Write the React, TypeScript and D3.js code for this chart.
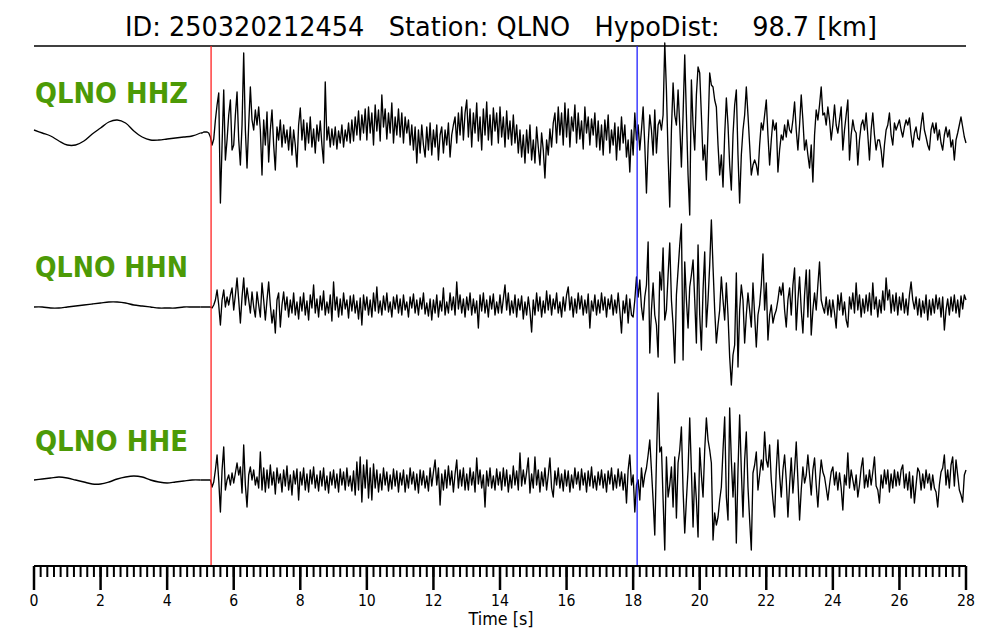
import React from "react";
import * as d3 from "d3";

const TITLE = "ID: 250320212454   Station: QLNO   HypoDist:    98.7 [km]";
const CHANNELS = ["QLNO HHZ", "QLNO HHN", "QLNO HHE"];
const P_PICK = 5.32;
const S_PICK = 18.12;
const T_MAX = 28;
const PRE_STEP = 0.25;
const POST_START = 5.0;
const POST_STEP = 0.05;
const MAJOR_TICKS = d3.range(0, 29, 2);
const MINOR_TICKS = d3.range(0, 141).map((i) => i * 0.2);

// amplitudes (normalised, ~ -100..100), pre-event part every 0.25 s from t = 0
const hhzPre = [5, 2, -1, -6, -10, -10, -6, 1, 7, 13, 15, 12, 4, -2, -5, -5, -4, -3, -2, -1];
const hhnPre = [-2, -2, -3, -3, -2, -1, 0, 1, 2, 3, 3, 2, 0, -1, -2, -3, -3, -3, -2, -2];
const hhePre = [0, 1, 2, 3, 2, 0, -2, -4, -4, -2, 1, 3, 4, 3, 0, -2, -3, -2, -1, 0];

// from t = 5.0 s every 0.05 s
const hhzPost = [
  2, 2, 3, 3, 3, 2, -2, -10, -4, 15, 30, 42, -68, -10, 45, -25, -5, 20, 35, -15,
  -10, 20, 43, -5, -30, 10, 82, 5, -33, 10, 48, 15, 5, 25, 10, 28, 5, -40, 15, -10,
  23, -27, 5, 25, -10, -35, 8, -5, 15, -12, 10, -8, 5, -15, 8, -20, 5, -10, -32, 10,
  27, -5, 15, -15, 12, -8, 18, -12, 6, -18, 10, -6, 14, -10, -28, 53, -5, 8, -12, 6,
  -10, 8, -14, 4, -8, 10, -12, 5, -6, 12, -8, 15, -6, 18, 0, 24, -5, 20, 2, 26,
  -5, 28, 2, 22, -10, 30, 4, 25, -6, 40, 8, 26, -4, 22, 2, 32, -8, 18, 0, 26,
  -2, 22, -8, 18, 2, 15, -10, 10, -15, 8, -28, 5, -18, 10, -10, -22, 8, -15, 12, -20,
  5, -12, 10, -25, 0, 8, -18, 5, -10, 12, -22, 0, 10, 18, -8, 22, 0, 28, -5, 22,
  35, -2, 26, -12, 22, 2, 32, -6, 18, -15, 26, 0, 33, -5, 20, -10, 27, 4, 22, -8,
  28, -2, 18, -12, 24, -4, 14, -10, 20, -8, 10, -18, 5, -22, 0, -28, 5, -18, 10, -25,
  -5, -28, 8, -12, -30, 2, -15, -43, -5, -20, 6, -12, 12, 22, -8, 28, 0, 22, -10, 32,
  -2, 26, -12, 18, 4, 30, -8, 22, -4, 14, -14, 28, 2, 18, -10, 16, 0, 22, -12, 14,
  -15, 10, -20, 15, -5, 20, -18, 5, -10, 12, -25, 8, -15, 18, -8, 10, -22, -5, -37, 5,
  -20, 22, -5, 10, -15, 5, 28, -10, -58, -10, 20, 5, -20, 25, -18, 10, 15, 5, 20, 92,
  45, -20, -72, 5, 52, 20, 10, 45, 10, -32, 20, 80, 20, -40, -80, 55, 10, -15, 40, 68,
  62, 20, -25, -10, -45, 5, 62, 50, 48, 35, 28, -10, -40, -20, -52, 0, 37, 10, -30, -55,
  0, 30, 45, -20, -68, -20, 5, 20, 48, 20, -10, -40, -30, -25, -30, -40, -10, 12, 5, 20,
  35, 0, -30, -5, 15, 5, 12, -37, -15, 0, -5, 10, -2, 15, 5, 2, 15, 33, 5, -15,
  10, 40, 15, -15, -5, -20, -33, -10, -47, 0, 25, 15, 30, 48, 20, 22, 10, 28, 15, -5,
  10, 30, 10, 2, 15, 28, -15, 5, 20, 35, -25, 0, 15, 5, 2, -30, -5, 10, 15, 5,
  22, 0, -25, 5, 22, 0, -15, -5, -5, -15, -32, -10, 5, 10, 22, 0, -10, 12, 5, 10,
  15, 5, -2, 8, 15, 10, 17, 0, -12, 2, 8, -3, -5, 10, 22, 5, -2, -10, -15, 5,
  12, 2, 12, -5, 5, -8, -15, 0, 8, -2, 5, -12, -5, -25, -5, 2, 10, 18, 8, -2,
  -8,
];

const hhnPost = [
  -2, -2, -2, -2, -2, -2, -2, -3, 0, 5, 15, 0, -20, 5, 15, -2, 8, 0, 10, 17,
  -5, 10, 27, 5, -18, 8, 27, 0, 17, 5, -8, 13, -2, -12, 13, 0, -12, 22, 5, -15,
  5, 23, 0, -18, -5, -28, 5, 12, -22, 0, 13, -5, 8, -12, 5, -8, 12, -10, 3, -14,
  8, -6, 12, -10, 4, -15, 10, -3, 20, -8, 6, -12, 9, -5, 14, -10, 3, -8, 10, -16,
  23, -5, 8, -12, 6, -10, 12, -4, 5, -13, 9, -6, 10, -8, 4, -14, 7, -20, 10, -5,
  8, -10, 5, -12, 12, -6, 18, -8, 4, -10, 9, -5, 12, -7, 3, -12, 8, -4, 10, -8,
  6, -10, 10, -5, 3, -12, 8, -3, 11, -8, 5, -10, 7, -4, 12, -9, 2, -11, 6, -15,
  5, -8, 10, -12, 4, -6, 17, -10, 3, -8, 12, -5, 8, -10, 23, -4, 10, -8, 6, -12,
  8, -5, 12, -10, 6, -8, 4, -23, 10, -6, 12, -8, 5, -12, 9, -4, 11, -10, 3, -8,
  10, -8, 6, 20, -5, 12, -10, 4, -8, 10, -12, 6, -5, 9, -14, 3, -10, 8, -6, -27,
  5, -10, 12, -6, 8, -12, 4, -8, 14, -5, 10, -10, 6, -4, 12, -8, 3, -12, 8, -6,
  10, 18, -5, 8, -12, 6, -8, 12, -4, 9, -10, 5, -8, 11, -23, 4, -6, 10, -10, 5,
  -8, 12, -5, 8, -12, 6, -4, 10, -10, 5, -8, 12, -6, -28, 4, -8, 10, -18, 6, -10,
  -12, 5, 28, 8, 25, -2, -15, 8, 20, 63, -48, -5, 22, -10, -20, -52, 33, 15, 57, -15,
  -5, 30, 62, 5, -20, -58, 10, 35, 60, 81, -55, 43, 5, -23, 18, 30, 45, 5, -38, 60,
  -10, -45, 15, 53, -22, 5, 40, 85, 38, -5, -38, -20, -5, 28, 5, -15, 22, -10, -52, -80,
  -50, -40, 32, -62, -5, 20, 5, -38, -10, 12, -5, -22, 22, -10, -42, -10, 0, 20, 51, -5,
  22, -35, -10, 0, -18, -10, -5, 5, 18, 10, 22, -5, -22, 5, 17, -10, 20, 37, -25, 5,
  28, -5, -28, 10, 35, -12, 35, -30, -5, 12, -5, 20, 43, 5, -2, -8, 8, -10, 5, -12,
  5, -8, -23, 10, -5, 12, -10, 3, -15, -22, 8, -4, 12, -8, 22, -5, 10, -12, 6, -8,
  10, -6, 12, -10, 22, -4, 8, -12, 5, -8, 14, -5, 27, 5, 15, -8, 10, -6, 12, -10,
  8, -5, 12, -8, 6, -10, 10, 23, 5, -4, 8, -10, 6, -12, 4, -8, 10, -15, 5, -10,
  6, -8, 10, -4, 7, -12, 8, -25, -5, 6, -10, 8, -6, 10, -8, 5, -12, 9, -4, 10,
  5,
];

const hhePost = [
  0, 0, 0, 0, 0, 0, 0, -7, -2, 10, 25, 0, -32, 10, 33, -10, 0, 5, -5, 7,
  -3, 7, 17, 5, 13, -13, 35, -5, -27, 5, 13, 0, 10, -5, 3, -8, 28, -10, 12, -12,
  10, -8, 15, -5, 8, -14, 12, -3, 6, -12, 10, -6, 14, -10, 5, -15, 9, -4, 11, -20,
  8, -5, 12, -10, 6, -12, 10, -4, 13, -8, 5, -11, 9, -6, 12, -10, 4, -13, 8, -5,
  10, -8, 6, -12, 11, -5, 8, -10, 12, -6, 4, -11, 9, -15, 18, -10, 23, -22, 15, -8,
  20, -18, 12, -20, 16, -8, 10, -12, 6, -10, 12, -5, 8, -11, 5, -9, 11, -6, 9, -12,
  7, -5, 10, -12, 5, -8, 12, -4, 8, -10, 6, -13, 10, -5, 9, -8, 4, -11, 12, -6,
  8, 20, -5, 12, -25, 6, -10, 10, -8, 14, -5, 9, -12, 6, 20, -8, 10, -6, 12, -10,
  6, -10, 12, -5, 8, -12, 22, -4, 10, -8, 5, -27, 9, -6, 12, -8, 4, -10, 11, -5,
  8, -10, 12, -6, 10, -12, 5, -8, 14, -5, 9, -10, 27, -6, 10, -4, 8, 22, -13, 6,
  -8, 23, -5, 10, -12, 8, -6, 12, -10, 5, 22, -8, -17, 9, -5, 12, -8, 6, -11, 10,
  -6, 9, -12, 5, -8, 12, -4, 8, -10, 11, -5, 7, -12, 9, -6, 13, -8, 4, -10, 8,
  -5, 10, -8, 6, -12, 9, -4, 12, -10, 5, -8, 11, -6, 8, -10, 6, -23, 10, 25, -5,
  5, -32, -5, 0, -20, 12, -7, 5, 12, 25, 40, 10, -20, -55, 20, 87, 28, 33, -20, -70,
  23, -17, -5, 13, -27, 23, -38, 17, 30, 53, -10, -53, -20, 10, 62, 10, -47, 7, -20, -57,
  32, 5, -17, 30, 62, 40, 30, 17, -60, -33, -45, -37, -20, -7, 30, 63, -17, -40, 72, 20,
  -17, 17, -63, 10, 65, 10, -37, 20, 48, -7, -40, -70, 7, 15, 28, -10, 5, 20, 10, 48,
  20, 13, 35, 0, -20, -37, 10, 40, 5, -17, 10, 25, 0, -37, -5, 22, -13, 10, 38, 0,
  -40, -10, 13, -3, 5, 25, 5, -15, 10, 22, -5, -27, 0, 20, 8, 3, -8, -20, -5, 8,
  13, -5, 8, -10, 7, -8, -30, 5, -5, 27, -8, 10, 0, -10, 5, -17, -5, 12, 22, -8,
  5, -7, 10, -5, 8, 23, -6, -10, -23, 5, -8, 10, -4, 10, -12, 6, -8, 10, -6, 8,
  -5, 10, 15, -8, 6, -10, 8, -18, 4, -23, -5, 12, 8, -10, 6, -8, 10, -3, 6, -10,
  5, -8, -12, -27, -5, 8, 12, 25, -5, 10, -8, 15, 23, -6, 20, 5, -10, -15, -22, 5,
  10,
];

const TRACES = [
  { name: CHANNELS[0], pre: hhzPre, post: hhzPost },
  { name: CHANNELS[1], pre: hhnPre, post: hhnPost },
  { name: CHANNELS[2], pre: hhePre, post: hhePost },
];

const W = 1000;
const H = 640;
const LEFT = 34;
const RIGHT = 966;
const TOP = 46;
const AXIS_Y = 566;
const CENTERS = [135, 305, 480];
const LABEL_Y = [103, 277, 451];
const GREEN = "#4c9a06";

export default function App() {
  const x = d3.scaleLinear().domain([0, T_MAX]).range([LEFT, RIGHT]);

  const traces = TRACES.map((tr, k) => {
    const y = d3.scaleLinear().domain([-100, 100]).range([CENTERS[k] + 100, CENTERS[k] - 100]);
    const prePts: [number, number][] = tr.pre.map((v, i) => [i * PRE_STEP, v]);
    const postPts: [number, number][] = tr.post.map((v, i) => [POST_START + i * POST_STEP, v]);
    const smooth = d3
      .line<[number, number]>()
      .x((d) => x(d[0]))
      .y((d) => y(d[1]))
      .curve(d3.curveCatmullRom);
    const sharp = d3
      .line<[number, number]>()
      .x((d) => x(d[0]))
      .y((d) => y(d[1]));
    return {
      name: tr.name,
      preD: smooth([...prePts, postPts[0]]) || "",
      postD: sharp(postPts) || "",
    };
  });

  return (
    <svg
      width={W}
      height={H}
      viewBox={`0 0 ${W} ${H}`}
      style={{ position: "absolute", left: 0, top: 0, background: "#fff" }}
    >
      <rect x={0} y={0} width={W} height={H} fill="#fff" />
      <text
        x={501}
        y={36}
        textAnchor="middle"
        fontFamily="DejaVu Sans"
        fontSize={27}
        textLength={752}
        lengthAdjust="spacingAndGlyphs"
        style={{ whiteSpace: "pre" }}
        fill="#000"
      >
        {TITLE}
      </text>
      <line x1={LEFT} x2={RIGHT} y1={TOP} y2={TOP} stroke="#000" strokeWidth={1.5} />

      {traces.map((tr, k) => (
        <g key={tr.name}>
          <text
            x={35}
            y={LABEL_Y[k]}
            fontFamily="DejaVu Sans"
            fontWeight="bold"
            fontSize={29}
            textLength={153}
            lengthAdjust="spacingAndGlyphs"
            fill={GREEN}
          >
            {tr.name}
          </text>
          <path d={tr.preD} fill="none" stroke="#000" strokeWidth={1.35} strokeLinejoin="round" />
          <path d={tr.postD} fill="none" stroke="#000" strokeWidth={1.35} strokeLinejoin="round" />
        </g>
      ))}

      <line x1={x(P_PICK)} x2={x(P_PICK)} y1={TOP} y2={AXIS_Y} stroke="#ff2020" strokeWidth={1.3} />
      <line x1={x(S_PICK)} x2={x(S_PICK)} y1={TOP} y2={AXIS_Y} stroke="#2020ff" strokeWidth={1.3} />

      <g>
        <line x1={LEFT} x2={RIGHT} y1={AXIS_Y} y2={AXIS_Y} stroke="#000" strokeWidth={2} />
        {MINOR_TICKS.map((t) => (
          <line key={"m" + t} x1={x(t)} x2={x(t)} y1={AXIS_Y} y2={AXIS_Y + 11} stroke="#000" strokeWidth={2} />
        ))}
        {MAJOR_TICKS.map((t) => (
          <line key={"M" + t} x1={x(t)} x2={x(t)} y1={AXIS_Y} y2={AXIS_Y + 24} stroke="#000" strokeWidth={2.5} />
        ))}
        {MAJOR_TICKS.map((t) => (
          <text
            key={"l" + t}
            transform={`translate(${x(t)},606) scale(0.88,1)`}
            textAnchor="middle"
            fontFamily="DejaVu Sans"
            fontSize={16}
            fill="#000"
          >
            {String(t)}
          </text>
        ))}
        <text
          x={501}
          y={625}
          textAnchor="middle"
          fontFamily="DejaVu Sans"
          fontSize={17}
          textLength={65}
          lengthAdjust="spacingAndGlyphs"
          fill="#000"
        >
          Time [s]
        </text>
      </g>
    </svg>
  );
}
